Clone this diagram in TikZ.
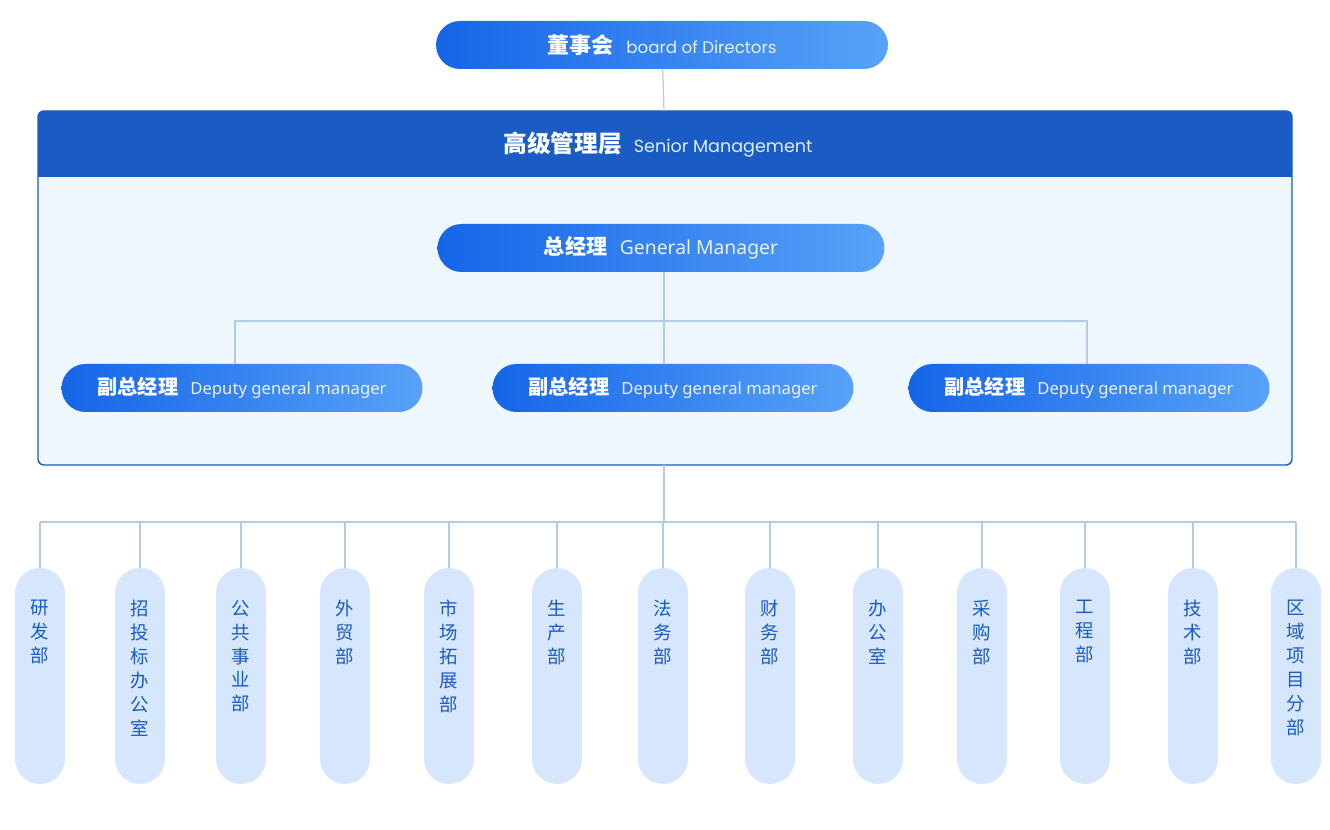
\documentclass[tikz,border=0pt]{standalone}
\usepackage{fontspec}
\setmainfont{Noto Sans}
\newfontfamily\cjk{Noto Sans CJK SC}
\newfontfamily\pop{Poppins}
\usetikzlibrary{positioning}
\definecolor{darkblue}{HTML}{1A5BC4}
\definecolor{pillleft}{HTML}{1565E8}
\definecolor{pillright}{HTML}{58A2F8}
\definecolor{lightbody}{HTML}{EEF6FE}
\definecolor{deptfill}{HTML}{D6E6FD}
\definecolor{linkgray}{HTML}{B4CBE6}
\tikzset{
    pill/.style={rounded corners=0.48cm, left color=pillleft, right color=pillright, draw=none,
        minimum height=0.96cm, text=white, inner sep=0pt},
    deptbox/.style={rounded corners=0.5cm, fill=deptfill, minimum width=1cm, minimum height=4.32cm, inner sep=0pt},
    link/.style={draw=linkgray, line width=0.7pt},
}
\newcommand{\pilltext}[2]{{\cjk\bfseries #1}\hspace{0.6em}{\color{white!85!pillright}#2}}
\newcommand{\department}[3]{
    \node [deptbox] (#1) at (#2, 676) {};
    \node [anchor=north, text=darkblue, align=center, font=\cjk\fontsize{10.5}{13.6}\selectfont] at (#2, 594) {#3};
    \draw [link] (#2, 522) -- (#1.north);
}

\begin{document}
\begin{tikzpicture}[x=0.02cm, y=-0.02cm]
    \useasboundingbox (0,0) rectangle (1330,830);
    % board
    \node [pill, minimum width=9.04cm, font=\fontsize{12.5}{14}\selectfont] (board) at (662,45)
        {\pilltext{董事会}{\pop\fontsize{9.5}{12}\selectfont board of Directors}};
    % senior management frame
    \draw [draw=darkblue, fill=lightbody, line width=0.8pt, rounded corners=0.12cm] (38,111) rectangle (1292,465);
    \fill [darkblue, rounded corners=0.12cm] (38,177) -- (38,111) -- (1292,111) -- (1292,177) -- cycle;
    \fill [darkblue] (38,160) rectangle (1292,177);
    \coordinate (frametop) at (664,111);
    \coordinate (framebottom) at (664,465);
    \node [text=white, font=\fontsize{13.5}{15}\selectfont] (senior) at (658,145)
        {{\cjk\bfseries 高级管理层}\hspace{0.5em}{\color{white!80!pillright}\pop\fontsize{10}{12}\selectfont Senior Management}};
    \draw [link] (board) -- (frametop);
    % general manager
    \node [pill, minimum width=8.94cm, font=\fontsize{12}{14}\selectfont] (gm) at (661,248)
        {\pilltext{总经理}{\fontsize{11}{12}\selectfont General Manager}};
    % deputies
    \foreach \name/\cx in {depa/242, depb/673, depc/1089} {
        \node [pill, minimum width=7.22cm, font=\fontsize{11.5}{14}\selectfont] (\name) at (\cx,388)
            {\pilltext{副总经理}{\fontsize{9.5}{12}\selectfont Deputy general manager}};
    }
    \coordinate (gmjoin) at (664,321);
    \draw [link] (gm.south -| gmjoin) -- (gmjoin);
    \draw [link] (235,364) |- (1087,321) -- (1087,364);
    \draw [link] (gmjoin) -- (664,364);
    % departments
    \draw [link] (framebottom) -- (664,522);
    \draw [link] (40,522) -- (1296,522);
    \department{yf}{40}{研\\发\\部}
    \department{zb}{140}{招\\投\\标\\办\\公\\室}
    \department{gg}{241}{公\\共\\事\\业\\部}
    \department{wm}{345}{外\\贸\\部}
    \department{sc}{449}{市\\场\\拓\\展\\部}
    \department{sp}{557}{生\\产\\部}
    \department{fw}{663}{法\\务\\部}
    \department{cw}{770}{财\\务\\部}
    \department{bg}{878}{办\\公\\室}
    \department{cg}{982}{采\\购\\部}
    \department{gc}{1085}{工\\程\\部}
    \department{js}{1193}{技\\术\\部}
    \department{qy}{1296}{区\\域\\项\\目\\分\\部}
\end{tikzpicture}
\end{document}
